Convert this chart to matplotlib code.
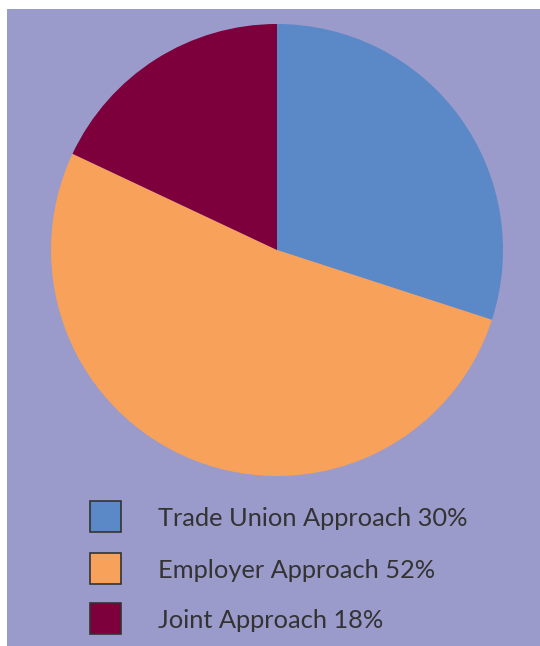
import matplotlib.pyplot as plt
from matplotlib.patches import Rectangle

labels = ['Trade Union Approach', 'Employer Approach', 'Joint Approach']
shares = [30, 52, 18]
colors = ['#5B89C8', '#F8A15A', '#7D003C']
bg = '#9A9ACB'

W, H = 540, 646
fig = plt.figure(figsize=(W / 100, H / 100), dpi=100)
fig.patch.set_facecolor('white')

# purple panel
fig.patches.append(Rectangle((7 / W, 0), 1 - 7 / W, 1 - 9 / H, transform=fig.transFigure,
                             facecolor=bg, edgecolor='none', zorder=-10))

# pie
cx, cy, r = 277, 250, 226
ax = fig.add_axes([(cx - r) / W, (H - cy - r) / H, 2 * r / W, 2 * r / H])
ax.pie(shares, colors=colors, startangle=90, counterclock=False, radius=1,
       wedgeprops=dict(linewidth=0))
ax.set_xlim(-1, 1)
ax.set_ylim(-1, 1)
ax.set_aspect('equal')
ax.axis('off')

# legend
box_y = [516, 568, 618]
for lab, val, col, y in zip(labels, shares, colors, box_y):
    fig.patches.append(Rectangle((90 / W, (H - y - 15.5) / H), 31 / W, 31 / H,
                                 transform=fig.transFigure, facecolor=col,
                                 edgecolor='#333333', linewidth=1.2, zorder=2))
    fig.text(158 / W, (H - y - 2) / H, f'{lab} {val}%', fontsize=18.3, color='#333333',
             va='center', ha='left', family='Lato')

fig.savefig('out.png', dpi=100)
